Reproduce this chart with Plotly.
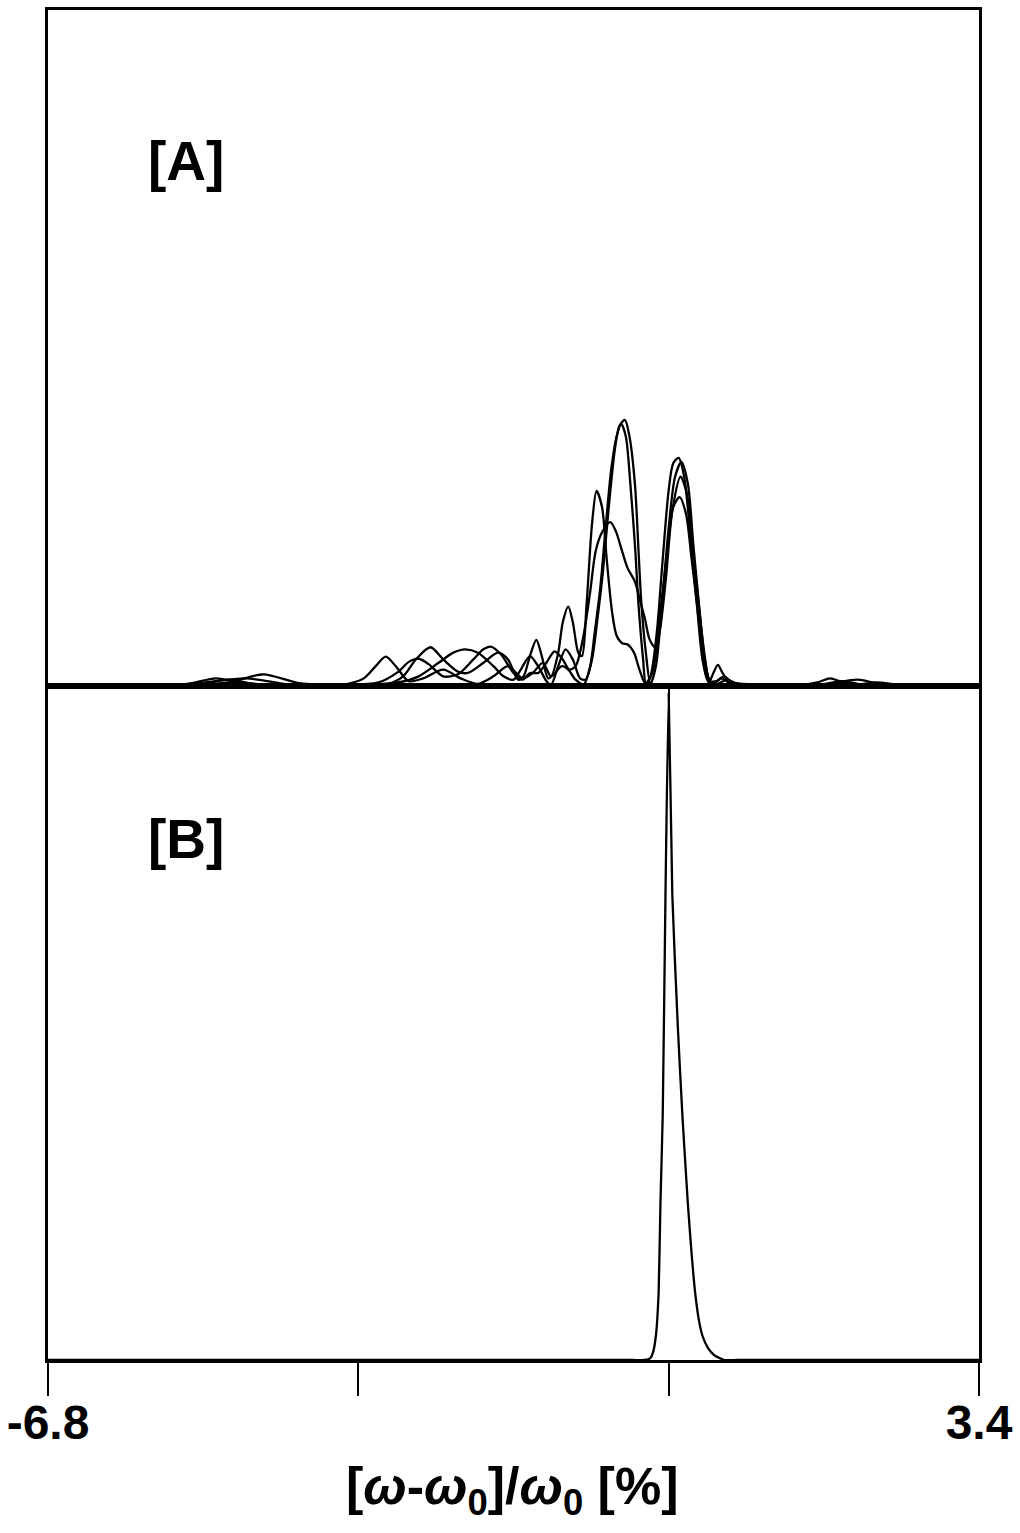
import plotly.graph_objects as go

# ---------------- data ----------------
# Panel [A]: four spectra (x in %, y relative intensity)
a1_x = [-6.8, -5.69, -5.15, -4.63, -4.16, -3.62, -3.34, -3.21, -3.10, -2.99, -2.85, -2.69, -2.47, -2.28,
        -2.09, -1.92, -1.76, -1.60, -1.49, -1.38, -1.29, -1.21, -1.16, -1.10, -1.05, -0.99, -0.95, -0.90,
        -0.84, -0.79, -0.73, -0.68, -0.62, -0.57, -0.51, -0.45, -0.38, -0.32, -0.25, -0.17, -0.10, -0.01,
        0.05, 0.12, 0.19, 0.25, 0.32, 0.38, 0.44, 0.49, 0.54, 0.59, 0.67, 0.97, 1.41, 1.63, 1.77, 1.91,
        2.28, 3.4]
a1_y = [0, 0.001, 0.005, 0.012, 0.003, 0.001, 0.012, 0.030, 0.044, 0.030, 0.008, 0.012, 0.025, 0.012,
        0.004, 0.015, 0.030, 0.012, 0.020, 0.035, 0.015, 0.050, 0.095, 0.118, 0.095, 0.050, 0.045, 0.120,
        0.240, 0.289, 0.265, 0.190, 0.110, 0.075, 0.064, 0.062, 0.050, 0.025, 0.003, 0.025, 0.100, 0.205,
        0.265, 0.280, 0.255, 0.190, 0.110, 0.040, 0.006, 0.020, 0.032, 0.020, 0.006, 0.002, 0.002, 0.006,
        0.012, 0.006, 0.001, 0]

a2_x = [-6.8, -5.69, -5.26, -4.96, -4.71, -4.27, -3.62, -3.18, -2.96, -2.85, -2.74, -2.63, -2.47, -2.31,
        -2.14, -2.03, -1.95, -1.84, -1.70, -1.60, -1.52, -1.43, -1.34, -1.25, -1.16, -1.09, -1.02, -0.94,
        -0.86, -0.80, -0.73, -0.64, -0.58, -0.51, -0.45, -0.37, -0.31, -0.26, -0.21, -0.15, -0.10, -0.03,
        0.04, 0.13, 0.20, 0.26, 0.33, 0.40, 0.45, 0.52, 0.61, 0.70, 1.19, 1.73, 2.07, 2.28, 2.72, 3.4]
a2_y = [0, 0.001, 0.004, 0.012, 0.006, 0.002, 0.002, 0.006, 0.022, 0.036, 0.041, 0.033, 0.015, 0.018,
        0.040, 0.055, 0.059, 0.048, 0.020, 0.010, 0.020, 0.020, 0.035, 0.052, 0.040, 0.025, 0.030, 0.070,
        0.140, 0.200, 0.228, 0.243, 0.230, 0.200, 0.175, 0.155, 0.125, 0.100, 0.070, 0.058, 0.080, 0.160,
        0.260, 0.310, 0.285, 0.210, 0.120, 0.040, 0.008, 0.008, 0.015, 0.006, 0.002, 0.004, 0.010, 0.005,
        0.001, 0]

a3_x = [-6.8, -5.69, -4.82, -4.44, -4.05, -3.51, -3.07, -2.91, -2.77, -2.61, -2.47, -2.31, -2.20, -2.03,
        -1.87, -1.76, -1.65, -1.59, -1.52, -1.45, -1.39, -1.32, -1.26, -1.17, -1.10, -1.02, -0.93, -0.86,
        -0.81, -0.75, -0.70, -0.63, -0.57, -0.52, -0.47, -0.42, -0.37, -0.33, -0.28, -0.25, -0.20, -0.13,
        -0.07, 0.00, 0.05, 0.11, 0.17, 0.24, 0.31, 0.37, 0.43, 0.49, 0.58, 0.67, 0.97, 1.41, 1.73, 1.90,
        2.07, 2.50, 3.4]
a3_y = [0, 0.001, 0.006, 0.018, 0.005, 0.002, 0.004, 0.015, 0.040, 0.058, 0.040, 0.022, 0.020, 0.035,
        0.050, 0.040, 0.010, 0.015, 0.045, 0.069, 0.045, 0.012, 0.018, 0.030, 0.025, 0.010, 0.003, 0.030,
        0.080, 0.145, 0.220, 0.320, 0.370, 0.388, 0.370, 0.300, 0.210, 0.120, 0.040, 0.005, 0.015, 0.080,
        0.180, 0.290, 0.330, 0.338, 0.310, 0.220, 0.120, 0.040, 0.008, 0.004, 0.012, 0.005, 0.002, 0.001,
        0.004, 0.008, 0.004, 0.001, 0]

a4_x = [-6.8, -5.69, -5.15, -4.82, -4.55, -4.05, -3.40, -2.96, -2.74, -2.52, -2.36, -2.23, -2.09, -1.92,
        -1.81, -1.70, -1.62, -1.52, -1.43, -1.34, -1.29, -1.21, -1.13, -1.05, -0.97, -0.91, -0.84, -0.78,
        -0.72, -0.66, -0.59, -0.54, -0.48, -0.43, -0.37, -0.33, -0.30, -0.25, -0.20, -0.14, -0.08, -0.01,
        0.07, 0.14, 0.21, 0.27, 0.34, 0.40, 0.46, 0.54, 0.64, 0.75, 1.19, 2.07, 2.28, 2.50, 3.4]
a4_y = [0, 0.001, 0.003, 0.010, 0.004, 0.001, 0.002, 0.006, 0.015, 0.035, 0.050, 0.055, 0.050, 0.030,
        0.015, 0.010, 0.025, 0.045, 0.030, 0.008, 0.002, 0.030, 0.055, 0.040, 0.012, 0.010, 0.040, 0.100,
        0.170, 0.260, 0.350, 0.385, 0.394, 0.370, 0.300, 0.200, 0.125, 0.050, 0.004, 0.030, 0.110, 0.220,
        0.310, 0.332, 0.300, 0.210, 0.110, 0.035, 0.006, 0.004, 0.010, 0.004, 0.001, 0.003, 0.006, 0.003, 0]

# Panel [B]: single narrow peak
b_x = [-6.8, -0.40, -0.26, -0.20, -0.17, -0.14, -0.11, -0.09, -0.065, -0.035, 0.0, 0.04, 0.10, 0.15,
       0.21, 0.25, 0.29, 0.33, 0.37, 0.43, 0.50, 0.61, 0.75, 3.4]
b_y = [0, 0, 0, 0.003, 0.012, 0.036, 0.10, 0.233, 0.364, 0.69, 0.99, 0.69, 0.496, 0.364,
       0.233, 0.16, 0.10, 0.06, 0.036, 0.018, 0.007, 0.0, 0, 0]

x_label_ticks = [-6.8, 3.4]
x_label_text = ["-6.8", "3.4"]
x_inner_ticks = [-3.4, 0]
x_range = [-6.8, 3.4]

# ---------------- figure ----------------
fig = go.Figure()
line_style = dict(color="black", width=2.3, shape="spline", smoothing=0.8)
for xs, ys in [(a1_x, a1_y), (a2_x, a2_y), (a3_x, a3_y), (a4_x, a4_y)]:
    fig.add_trace(go.Scatter(x=xs, y=ys, mode="lines", line=line_style,
                             xaxis="x2", yaxis="y", showlegend=False, hoverinfo="skip"))
fig.add_trace(go.Scatter(x=b_x, y=b_y, mode="lines",
                         line=dict(color="black", width=2.3, shape="spline", smoothing=0.5),
                         xaxis="x", yaxis="y2", showlegend=False, hoverinfo="skip"))

split = 0.4989
fig.update_layout(
    width=1020, height=1533,
    margin=dict(l=47, r=40, t=7, b=173),
    paper_bgcolor="white", plot_bgcolor="white",
    font=dict(family="Liberation Sans, Arial, sans-serif", color="black"),
    xaxis=dict(range=x_range, anchor="y2", domain=[0, 1], showgrid=False, zeroline=False,
               showline=True, linecolor="black", linewidth=2.5, mirror=True,
               tickmode="array", tickvals=x_label_ticks, ticktext=x_label_text,
               ticks="outside", ticklen=33, tickwidth=2, tickcolor="black",
               ticklabelstandoff=-14,
               tickfont=dict(size=48, family="Liberation Sans, Arial, sans-serif", weight="bold"),
               minor=dict(tickmode="array", tickvals=x_inner_ticks, ticks="outside", ticklen=33,
                          tickwidth=2, tickcolor="black", showgrid=False)),
    xaxis2=dict(range=x_range, anchor="y", matches="x", showgrid=False, zeroline=False,
                showline=True, linecolor="black", linewidth=2.5, mirror=True,
                tickmode="array", tickvals=[], showticklabels=False,
                minor=dict(tickmode="array", tickvals=[0], ticks="outside", ticklen=12,
                           tickwidth=2, tickcolor="black", showgrid=False)),
    yaxis=dict(range=[0, 1], domain=[split, 1], anchor="x2", showgrid=False, zeroline=False,
               showline=True, linecolor="black", linewidth=2.5, mirror=True,
               showticklabels=False, ticks=""),
    yaxis2=dict(range=[0, 1], domain=[0, split], anchor="x", showgrid=False, zeroline=False,
                showline=True, linecolor="black", linewidth=2.5, mirror=True,
                showticklabels=False, ticks=""),
)

fig.add_annotation(text="<b>[A]</b>", xref="paper", yref="paper", x=(185 - 47) / 933,
                   y=(1360 - 158) / 1353, showarrow=False, font=dict(size=55),
                   xanchor="center", yanchor="middle")
fig.add_annotation(text="<b>[B]</b>", xref="paper", yref="paper", x=(185 - 47) / 933,
                   y=(1360 - 838) / 1353, showarrow=False, font=dict(size=55),
                   xanchor="center", yanchor="middle")
fig.add_annotation(text="<b>[<i>ω</i>-<i>ω</i><sub>0</sub>]/<i>ω</i><sub>0</sub> [%]</b>",
                   xref="paper", yref="paper", x=(512 - 47) / 933, y=(1360 - 1490) / 1353,
                   showarrow=False, font=dict(size=52), xanchor="center", yanchor="middle")

fig.write_html("out.html")
